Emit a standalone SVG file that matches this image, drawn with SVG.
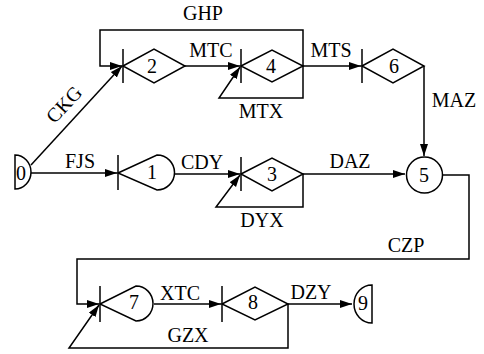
<svg xmlns="http://www.w3.org/2000/svg" width="484" height="354" viewBox="0 0 484 354">
<defs>
<marker id="ah" markerWidth="13" markerHeight="9" refX="12" refY="4" orient="auto" markerUnits="userSpaceOnUse">
<path d="M0,0 L12,4 L0,8 Z" fill="#000"/>
</marker>
<style>
.s{fill:#fff;stroke:#000;stroke-width:1.5;}
.l{fill:none;stroke:#000;stroke-width:1.5;}
.a{fill:none;stroke:#000;stroke-width:1.5;marker-end:url(#ah);}
text{font-family:'Liberation Serif','DejaVu Serif','Times New Roman',serif;font-size:20px;fill:#000;text-anchor:middle;}
</style>
</defs>
<rect width="484" height="354" fill="#fff"/>
<g id="connectors">
<path class="a" d="M31,165 L122,66"/>
<path class="a" d="M303,66 L303,30 L100,30 L100,66 L122,66"/>
<path class="a" d="M185,66 L240,66"/>
<path class="a" d="M303,66 L303,98 L219,98 L240,67"/>
<path class="a" d="M303,66 L361,66"/>
<path class="a" d="M424,66 L424,156"/>
<path class="a" d="M31,173 L117,173"/>
<path class="a" d="M174,174 L240,174"/>
<path class="a" d="M303,174 L303,207 L216,207 L240,175"/>
<path class="a" d="M303,174 L405,174"/>
<path class="a" d="M443,175 L469,175 L469,259 L77,259 L77,304 L99,304"/>
<path class="a" d="M154,304 L221,304"/>
<path class="a" d="M288,304 L288,348 L69,348 L99,305"/>
<path class="a" d="M288,304 L352,304"/>
<text x="203" y="20">GHP</text>
<text x="211" y="57">MTC</text>
<text x="331" y="57">MTS</text>
<text x="261" y="118">MTX</text>
<text x="454" y="107">MAZ</text>
<text x="69" y="109" transform="rotate(-47 69 109)">CKG</text>
<text x="80" y="168">FJS</text>
<text x="202" y="169">CDY</text>
<text x="350" y="168">DAZ</text>
<text x="262" y="227">DYX</text>
<text x="406" y="252">CZP</text>
<text x="180" y="300">XTC</text>
<text x="311" y="299">DZY</text>
<text x="188" y="342">GZX</text>
</g>
<g id="n0">
<path class="s" d="M15,155 A16,17 0 0 1 15,189 Z"/>
<text x="21" y="180">0</text>
</g>
<g id="n1">
<path class="s" d="M118,173 L157,155 A17.5,17.5 0 0 1 157,190 Z"/>
<path class="l" d="M118,155 L118,190"/>
<text x="152" y="179">1</text>
</g>
<g id="n2">
<path class="s" d="M123,66 L154,49 L185,66 L154,83 Z"/>
<path class="l" d="M123,49 L123,83"/>
<text x="152" y="73">2</text>
</g>
<g id="n3">
<path class="s" d="M241,174 L272,158 L303,174 L272,191 Z"/>
<path class="l" d="M241,157 L241,191"/>
<text x="272" y="181">3</text>
</g>
<g id="n4">
<path class="s" d="M241,66 L272,50 L303,66 L272,82 Z"/>
<path class="l" d="M241,49 L241,83"/>
<text x="271" y="73">4</text>
</g>
<g id="n5">
<circle class="s" cx="424.5" cy="175" r="18"/>
<text x="424" y="182">5</text>
</g>
<g id="n6">
<path class="s" d="M362,66 L393,49 L424,66 L393,83 Z"/>
<path class="l" d="M362,49 L362,83"/>
<text x="394" y="73">6</text>
</g>
<g id="n7">
<path class="s" d="M100,304 L136,286 A17,17.5 0 0 1 136,321 Z"/>
<path class="l" d="M100,286 L100,322"/>
<text x="134" y="309">7</text>
</g>
<g id="n8">
<path class="s" d="M222,304 L255,287 L288,304 L255,320 Z"/>
<path class="l" d="M222,286 L222,322"/>
<text x="253" y="309">8</text>
</g>
<g id="n9">
<path class="s" d="M372,285 A18,19 0 0 0 372,323 Z"/>
<text x="363" y="310">9</text>
</g>
</svg>
